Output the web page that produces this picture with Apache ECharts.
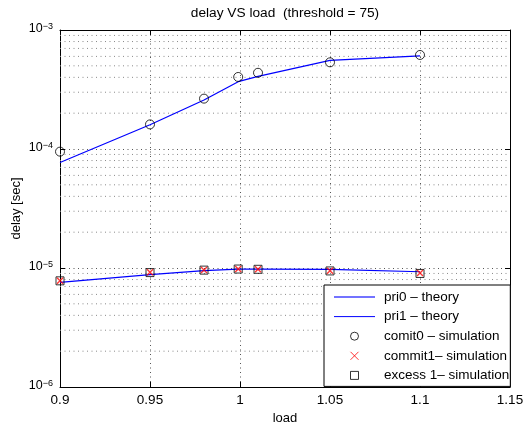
<!DOCTYPE html>
<html>
<head>
<meta charset="utf-8">
<script src="https://cdn.jsdelivr.net/npm/echarts@6/dist/echarts.min.js"></script>
<style>html,body{margin:0;padding:0;background:#fff}#c{width:528px;height:423px}</style>
</head>
<body>
<div id="c"></div>
<script>
const loads = [0.9, 0.95, 0.98, 0.999, 1.01, 1.05, 1.1];
const pri0Theory = [7.7e-5, 1.6e-4, 2.58e-4, 3.68e-4, 4.08e-4, 5.55e-4, 6.05e-4];
const pri1Theory = [7.58e-6, 8.8e-6, 9.5e-6, 9.8e-6, 9.8e-6, 9.75e-6, 9.3e-6];
const comit0Sim = [9.5e-5, 1.61e-4, 2.65e-4, 4.03e-4, 4.37e-4, 5.35e-4, 6.17e-4];
const commit1Sim = [7.8e-6, 9.2e-6, 9.6e-6, 9.8e-6, 9.75e-6, 9.5e-6, 9.07e-6];
const excess1Sim = [7.8e-6, 9.15e-6, 9.6e-6, 9.8e-6, 9.75e-6, 9.45e-6, 9.0e-6];
const xRange = [0.9, 1.15];
const yRange = [1e-6, 1e-3];
const seriesNames = ['pri0 \u2013 theory', 'pri1 \u2013 theory', 'comit0 \u2013 simulation', 'commit1\u2013 simulation', 'excess 1\u2013 simulation'];
const titleText = 'delay VS load  (threshold = 75)';

// minor log grid values (2..9 x each decade)
const minorGridValues = [];
for (let d = -6; d < -3; d++) for (let m = 2; m <= 9; m++) minorGridValues.push(m * Math.pow(10, d));

const pair = (ys) => loads.map((x, i) => [x, ys[i]]);
const FONT = 'Liberation Sans, Arial, sans-serif';
const majorDotted = { color: '#555', width: 1, type: [1, 3.5] };
const minorDotted = { color: '#8a8a8a', width: 1, type: [1, 3.5] };

const minorSeries = minorGridValues.map(v => ({
  type: 'line', silent: true, symbol: 'none', z: 1,
  data: [[xRange[0], v], [xRange[1], v]],
  lineStyle: minorDotted
}));

const chart = echarts.init(document.getElementById('c'));
chart.setOption({
  animation: false,
  backgroundColor: '#fff',
  textStyle: { fontFamily: FONT, color: '#000' },
  title: {
    text: titleText, left: 285, textAlign: 'center', top: 6, padding: 0,
    textStyle: { fontSize: 13.7, fontWeight: 'normal', color: '#000', fontFamily: FONT }
  },
  grid: { left: 60, right: 18, top: 30, bottom: 36, containLabel: false, outerBoundsMode: 'none' },
  xAxis: [{
    type: 'value', min: xRange[0], max: xRange[1], interval: 0.05,
    name: 'load', nameLocation: 'middle', nameGap: 25, nameMoveOverlap: false,
    nameTextStyle: { fontSize: 13, color: '#000', fontFamily: FONT },
    axisLine: { lineStyle: { color: '#000', width: 1 } },
    axisTick: { inside: true, length: 5, lineStyle: { color: '#000' } },
    axisLabel: { color: '#000', fontSize: 13.5, margin: 6, fontFamily: FONT,
      formatter: v => String(parseFloat(v.toFixed(2))) },
    splitLine: { show: true, lineStyle: majorDotted }
  }, {
    type: 'value', min: xRange[0], max: xRange[1], interval: 0.05, position: 'top',
    axisLine: { lineStyle: { color: '#000', width: 1 } },
    axisTick: { inside: true, length: 5, lineStyle: { color: '#000' } },
    axisLabel: { show: false }, splitLine: { show: false }
  }],
  yAxis: [{
    type: 'log', logBase: 10, min: yRange[0], max: yRange[1],
    name: 'delay [sec]', nameLocation: 'middle', nameGap: 37, nameMoveOverlap: false,
    nameTextStyle: { fontSize: 13, color: '#000', fontFamily: FONT },
    axisLine: { show: true, lineStyle: { color: '#000', width: 1 } },
    axisTick: { show: true, inside: true, length: 5, lineStyle: { color: '#000' } },
    axisLabel: {
      color: '#000', margin: 7, padding: [0, 0, 3, 0],
      formatter: v => '{b|10}{s|\u2212' + Math.round(-Math.log10(v)) + '}',
      rich: {
        b: { fontSize: 12.5, lineHeight: 13, verticalAlign: 'bottom', fontFamily: FONT, color: '#000' },
        s: { fontSize: 9, lineHeight: 9, verticalAlign: 'top', fontFamily: FONT, color: '#000' }
      }
    },
    splitLine: { show: true, lineStyle: majorDotted }
  }, {
    type: 'log', logBase: 10, min: yRange[0], max: yRange[1], position: 'right',
    axisLine: { show: true, lineStyle: { color: '#000', width: 1 } },
    axisTick: { show: true, inside: true, length: 5, lineStyle: { color: '#000' } },
    axisLabel: { show: false }, splitLine: { show: false }
  }],
  legend: {
    orient: 'vertical', left: 324, top: 285,
    padding: [5, 1, 4, 9], itemGap: 5.6, itemWidth: 41, itemHeight: 8,
    backgroundColor: '#fff', borderColor: '#000', borderWidth: 1,
    textStyle: { fontSize: 13.5, lineHeight: 14, color: '#000', fontFamily: FONT, padding: [0, 0, 0, 4] },
    itemStyle: { borderWidth: 1 },
    data: [
      { name: seriesNames[0], lineStyle: { color: '#7373ff', width: 2 },
        itemStyle: { color: 'rgba(0,0,0,0)', borderColor: 'rgba(0,0,0,0)', borderWidth: 0 } },
      { name: seriesNames[1], lineStyle: { color: '#0000ff', width: 1 },
        itemStyle: { color: 'rgba(0,0,0,0)', borderColor: 'rgba(0,0,0,0)', borderWidth: 0 } },
      { name: seriesNames[2] },
      { name: seriesNames[3] },
      { name: seriesNames[4] }
    ],
    z: 10
  },
  series: minorSeries.concat([
    {
      name: seriesNames[0], type: 'line', data: pair(pri0Theory), symbol: 'none',
      lineStyle: { color: '#0000ff', width: 1.2 }, itemStyle: { color: '#0000ff' }, z: 3
    },
    {
      name: seriesNames[1], type: 'line', data: pair(pri1Theory), symbol: 'none',
      lineStyle: { color: '#0000ff', width: 1.2 }, itemStyle: { color: '#0000ff' }, z: 3
    },
    {
      name: seriesNames[2], type: 'scatter', data: pair(comit0Sim), symbol: 'circle', symbolSize: 9,
      itemStyle: { color: 'rgba(0,0,0,0)', borderColor: '#000', borderWidth: 1 }, z: 4
    },
    {
      name: seriesNames[3], type: 'scatter', data: pair(commit1Sim),
      symbol: 'path://M0,0L10,10M10,0L0,10', symbolSize: 6,
      itemStyle: { color: 'rgba(0,0,0,0)', borderColor: '#ff0000', borderWidth: 1.4 }, z: 6
    },
    {
      name: seriesNames[4], type: 'scatter', data: pair(excess1Sim),
      symbol: 'path://M0,0H10V10H0Z', symbolSize: 8,
      itemStyle: { color: 'rgba(0,0,0,0)', borderColor: '#000', borderWidth: 1 }, z: 5
    }
  ])
});
</script>
</body>
</html>
